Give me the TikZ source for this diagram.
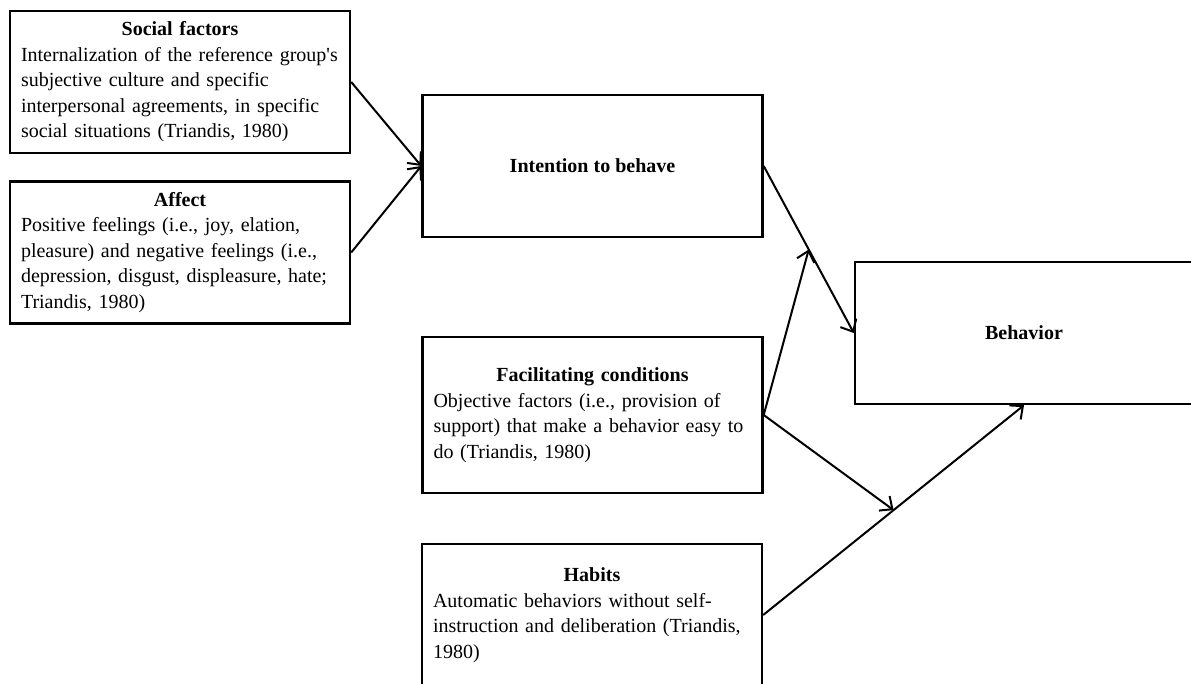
\documentclass[tikz,border=0pt]{standalone}
\usepackage{fontspec}
\setmainfont{Liberation Serif}
\usetikzlibrary{arrows.meta}

\begin{document}
\begin{tikzpicture}[x=0.5pt, y=-0.5pt,
    factor/.style = {rectangle, draw, line width=1.2pt, align=left, text width=159pt, inner xsep=5.5pt,
                     minimum width=170pt, minimum height=71pt, font=\fontsize{10}{12.75}\selectfont},
    core/.style   = {rectangle, draw, line width=1.2pt, align=center, inner sep=0,
                     minimum width=170pt, minimum height=71pt, font=\fontsize{10}{12.75}\selectfont\bfseries},
    link/.style   = {-{Straight Barb[length=5pt, width=9pt, line width=1pt]}, line width=1pt}]
    \useasboundingbox (0,0) rectangle (1191,684);

    \node[factor] (social) at (180,82) {
      \centering\textbf{Social factors}\par\raggedright
      \mbox{Internalization of the reference group\textquotesingle s}\\
      subjective culture and specific\\
      interpersonal agreements, in specific\\
      social situations (Triandis, 1980)
    };
    \node[factor] (affect) at (180,252.5) {
      \centering\textbf{Affect}\par\raggedright
      Positive feelings (i.e., joy, elation,\\
      pleasure) and negative feelings (i.e.,\\
      depression, disgust, displeasure, hate;\\
      Triandis, 1980)
    };
    \node[factor, minimum height=78pt] (facil) at (592.5,415) {
      \centering\textbf{Facilitating conditions}\par\raggedright
      Objective factors (i.e., provision of\\
      support) that make a behavior easy to\\
      do (Triandis, 1980)
    };
    \node[factor] (habits) at (592,615) {
      \centering\textbf{Habits}\par\raggedright
      Automatic behaviors without self-\\
      instruction and deliberation (Triandis,\\
      1980)
    };

    \node[core] (intention) at (592.5,166) {Intention to behave};
    \node[core, minimum width=169pt] (behavior) at (1024,333) {Behavior};

    % points where the side paths join the main ones
    \path (intention.east) -- (behavior.west) coordinate[midway] (join1);
    \path (habits.east) -- (behavior.south) coordinate[midway] (join2);

    \draw[link] (social.east)    -- (intention.west);
    \draw[link] (affect.east)    -- (intention.west);
    \draw[link] (intention.east) -- (behavior.west);
    \draw[link] (facil.east)     -- (join1);
    \draw[link] (facil.east)     -- (join2);
    \draw[link] (habits.east)    -- (behavior.south);
\end{tikzpicture}
\end{document}
